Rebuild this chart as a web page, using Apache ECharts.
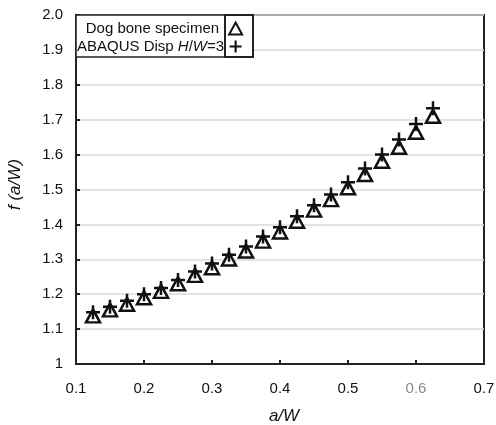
<!DOCTYPE html>
<html>
<head>
<meta charset="utf-8">
<script src="https://cdn.jsdelivr.net/npm/echarts@6/dist/echarts.min.js"></script>
<style>html,body{margin:0;padding:0;background:#fff;}#c{width:496px;height:425px;}</style>
</head>
<body>
<div id="c"></div>
<script>
const aW = [0.125,0.15,0.175,0.2,0.225,0.25,0.275,0.3,0.325,0.35,0.375,0.4,0.425,0.45,0.475,0.5,0.525,0.55,0.575,0.6,0.625];
const dogBone = [1.138,1.155,1.171,1.190,1.208,1.230,1.254,1.276,1.301,1.324,1.352,1.378,1.409,1.441,1.471,1.505,1.543,1.581,1.621,1.664,1.710];
const abaqus = [1.148,1.164,1.181,1.200,1.218,1.241,1.265,1.288,1.313,1.337,1.365,1.392,1.423,1.455,1.486,1.521,1.560,1.600,1.643,1.688,1.733];
const xTicks = [0.1,0.2,0.3,0.4,0.5,0.6,0.7];
const yTicks = [1,1.1,1.2,1.3,1.4,1.5,1.6,1.7,1.8,1.9,2.0];
const seriesNames = ['Dog bone specimen','ABAQUS Disp H/W=3'];

const FONT = 'Liberation Sans, Arial, sans-serif';
const plusPath = 'path://M5.75,0h2.5v5.75h5.75v2.5h-5.75v5.75h-2.5v-5.75h-5.75v-2.5h5.75z';

const chart = echarts.init(document.getElementById('c'));
chart.setOption({
  backgroundColor: '#fff',
  animation: false,
  grid: {left: 76, right: 12, top: 15, bottom: 61, show: true, borderColor: '#222', borderWidth: 2, backgroundColor: 'transparent', outerBoundsMode: 'none', containLabel: false},
  xAxis: {
    type: 'value', min: xTicks[0], max: xTicks[xTicks.length-1], interval: 0.1,
    name: 'a/W', nameLocation: 'middle', nameGap: 44,
    nameTextStyle: {fontFamily: FONT, fontSize: 17, fontStyle: 'italic', color: '#111', padding: [0,0,0,8]},
    axisLine: {show: true, lineStyle: {color: '#222', width: 2}},
    axisTick: {show: true, inside: true, length: 4, lineStyle: {color: '#222', width: 2}},
    axisLabel: {fontFamily: FONT, fontSize: 15, color: '#111', margin: 17,
      formatter: v => { const s = v.toFixed(1); return Math.abs(v-0.6) < 1e-6 ? '{g|' + s + '}' : s; },
      rich: {g: {color: '#888', fontFamily: FONT, fontSize: 15}}},
    splitLine: {show: false}
  },
  yAxis: {
    type: 'value', min: yTicks[0], max: yTicks[yTicks.length-1], interval: 0.1,
    name: 'f (a/W)', nameLocation: 'middle', nameGap: 52,
    nameTextStyle: {fontFamily: FONT, fontSize: 17, fontStyle: 'italic', color: '#111', padding: [0,0,0,10]},
    axisLine: {show: true, lineStyle: {color: '#222', width: 2}},
    axisTick: {show: true, inside: true, length: 4, lineStyle: {color: '#222', width: 2}},
    axisLabel: {fontFamily: FONT, fontSize: 15, color: '#111', margin: 13,
      formatter: v => Math.abs(v-1) < 1e-6 ? '1' : v.toFixed(1)},
    splitLine: {show: true, lineStyle: {color: '#e2d6d6', width: 1.5}}
  },
  legend: {
    orient: 'vertical', left: 77, top: 21, align: 'right', padding: 0,
    itemWidth: 13, itemHeight: 12, itemGap: 3, z: 10,
    data: seriesNames,
    formatter: function (name) {
      if (name === seriesNames[0]) return '{p|Dog bone specimen}';
      return '{n|ABAQUS Disp }{i|H}{n|/}{i|W}{n|=3}';
    },
    textStyle: {fontFamily: FONT, fontSize: 15, color: '#111',
      rich: {
        p: {fontFamily: FONT, fontSize: 15, color: '#111', padding: [0,5,0,0]},
        n: {fontFamily: FONT, fontSize: 15, color: '#111'},
        i: {fontFamily: FONT, fontSize: 15, color: '#111', fontStyle: 'italic'}
      }}
  },
  graphic: [
    {type: 'rect', z: 5, shape: {x: 76, y: 15, width: 149, height: 42}, style: {fill: '#fff', stroke: '#222', lineWidth: 1.5}},
    {type: 'rect', z: 5, shape: {x: 225, y: 15, width: 28, height: 42}, style: {fill: '#fff', stroke: '#222', lineWidth: 2}}
  ],
  series: [
    {
      name: seriesNames[0], type: 'scatter', z: 2,
      symbol: 'triangle', symbolSize: [14, 13],
      itemStyle: {color: '#fff', borderColor: '#111', borderWidth: 2.5, opacity: 1},
      data: aW.map((x, i) => [x, dogBone[i]])
    },
    {
      name: seriesNames[1], type: 'scatter', z: 3,
      symbol: plusPath, symbolSize: 14,
      itemStyle: {color: '#111', opacity: 1},
      data: aW.map((x, i) => [x, abaqus[i]])
    }
  ]
});
</script>
</body>
</html>
